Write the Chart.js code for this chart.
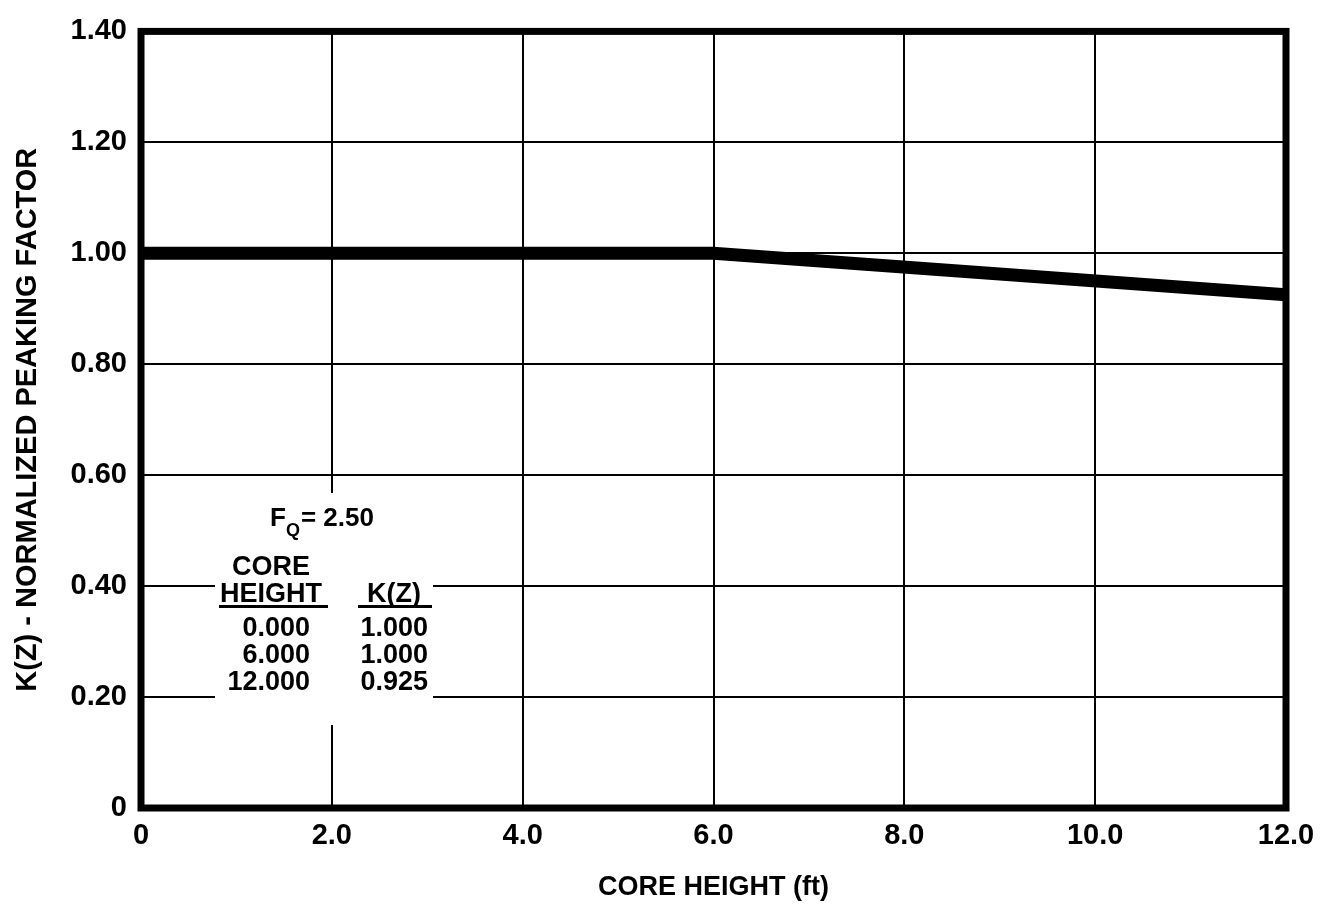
<!DOCTYPE html>
<html>
<head>
<meta charset="utf-8">
<script src="https://cdn.jsdelivr.net/npm/chart.js@4"></script>
<style>
  html, body { margin: 0; padding: 0; background: #fff; }
  #wrap { width: 1342px; height: 912px; position: relative; }
</style>
</head>
<body>
<div id="wrap"><canvas id="c"></canvas></div>
<script>
// ---- data ----
const coreHeight = [0, 6, 12];          // ft
const kz = [1.000, 1.000, 0.925];       // K(Z)
const xTickValues = [0, 2, 4, 6, 8, 10, 12];
const xTickLabels = ['0', '2.0', '4.0', '6.0', '8.0', '10.0', '12.0'];
const yTickValues = [0, 0.2, 0.4, 0.6, 0.8, 1.0, 1.2, 1.4];
const yTickLabels = ['0', '0.20', '0.40', '0.60', '0.80', '1.00', '1.20', '1.40'];
const fqValue = '2.50';
const tableHeights = ['0.000', '6.000', '12.000'];
const tableK = ['1.000', '1.000', '0.925'];

const FONT = '"Liberation Sans", Arial, Helvetica, sans-serif';

const boxPlugin = {
  id: 'boxPlugin',
  beforeDatasetsDraw(chart) {
    const ctx = chart.ctx;
    ctx.save();
    // white box that interrupts grid lines
    ctx.fillStyle = '#fff';
    ctx.fillRect(215, 493, 218, 232);
    ctx.fillStyle = '#000';
    ctx.textBaseline = 'alphabetic';
    // F_Q = 2.50
    ctx.font = 'bold 26px ' + FONT;
    ctx.textAlign = 'left';
    ctx.fillText('F', 270, 526);
    const fW = ctx.measureText('F').width;
    ctx.font = 'bold 18px ' + FONT;
    ctx.fillText('Q', 270 + fW, 536);
    const qW = ctx.measureText('Q').width;
    ctx.font = 'bold 26px ' + FONT;
    ctx.fillText('= ' + fqValue, 270 + fW + qW + 1, 526);
    // headers
    ctx.font = 'bold 27px ' + FONT;
    ctx.textAlign = 'center';
    ctx.fillText('CORE', 271, 575);
    ctx.fillText('HEIGHT', 271, 602);
    ctx.fillText('K(Z)', 394, 602);
    ctx.fillRect(219, 605, 109, 3);
    ctx.fillRect(358, 605, 74, 3);
    // rows
    ctx.textAlign = 'right';
    const baselines = [636, 663, 690];
    for (let i = 0; i < tableHeights.length; i++) {
      ctx.fillText(tableHeights[i], 310, baselines[i]);
      ctx.fillText(tableK[i], 428, baselines[i]);
    }
    ctx.restore();
  },
  afterDraw(chart) {
    const {ctx, chartArea: a} = chart;
    ctx.save();
    ctx.strokeStyle = '#000';
    ctx.lineWidth = 7;
    ctx.lineJoin = 'miter';
    ctx.strokeRect(a.left, a.top, a.right - a.left, a.bottom - a.top);
    ctx.restore();
  }
};

new Chart(document.getElementById('c'), {
  type: 'line',
  data: {
    datasets: [{
      data: coreHeight.map((x, i) => ({x: x, y: kz[i]})),
      borderColor: '#000',
      borderWidth: 13,
      pointRadius: 0,
      tension: 0,
      fill: false
    }]
  },
  options: {
    responsive: true,
    maintainAspectRatio: false,
    animation: false,
    layout: { padding: { top: 16, right: 56, left: 0, bottom: 0 } },
    plugins: { legend: { display: false }, tooltip: { enabled: false } },
    scales: {
      x: {
        type: 'linear',
        min: 0, max: 12,
        afterBuildTicks(scale) { scale.ticks = xTickValues.map(v => ({value: v})); },
        afterFit(scale) { scale.height = 104; },
        grid: { color: '#000', lineWidth: 2, drawTicks: false },
        border: { display: false },
        ticks: {
          color: '#000',
          padding: 11,
          maxRotation: 0,
          font: { family: FONT, size: 29, weight: 'bold' },
          callback: (v) => { const i = xTickValues.indexOf(v); return i >= 0 ? xTickLabels[i] : ''; }
        },
        title: {
          display: true,
          text: 'CORE HEIGHT (ft)',
          color: '#000',
          font: { family: FONT, size: 27, weight: 'bold' },
          padding: { top: 0, bottom: 8 }
        }
      },
      y: {
        type: 'linear',
        min: 0, max: 1.4,
        afterBuildTicks(scale) { scale.ticks = yTickValues.map(v => ({value: v})); },
        afterFit(scale) { scale.width = 141; },
        grid: { color: '#000', lineWidth: 2, drawTicks: false },
        border: { display: false },
        ticks: {
          color: '#000',
          padding: 14,
          font: { family: FONT, size: 29, weight: 'bold' },
          callback: (v) => { const i = yTickValues.findIndex(t => Math.abs(t - v) < 1e-9); return i >= 0 ? yTickLabels[i] : ''; }
        },
        title: {
          display: true,
          text: 'K(Z) - NORMALIZED PEAKING FACTOR',
          color: '#000',
          font: { family: FONT, size: 29, weight: 'bold' },
          padding: { top: 11, bottom: 0 }
        }
      }
    }
  },
  plugins: [boxPlugin]
});
</script>
</body>
</html>
